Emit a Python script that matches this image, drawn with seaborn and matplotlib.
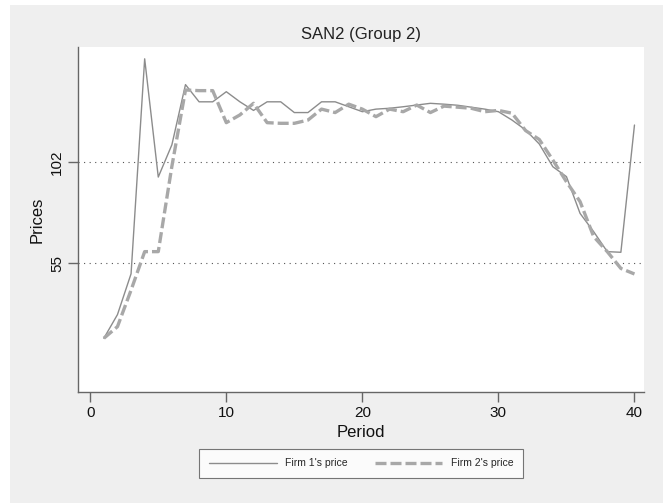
import numpy as np
import pandas as pd
import seaborn as sns
import matplotlib.pyplot as plt
from matplotlib.patches import Rectangle

period = list(range(1, 41))
firm1 = [20, 31, 50, 150, 95, 110, 138, 130, 130, 134.7,
         130, 126, 130, 130, 125, 125, 130, 130, 127.7, 125.4,
         126.6, 127, 127.7, 128.5, 129.3, 128.9, 128.4, 127.5, 126.6, 125.4,
         121.5, 116.9, 110.4, 99.8, 95.2, 78.1, 69.6, 60.3, 60, 119.2]
firm2 = [20, 25.4, 42.4, 60.3, 60.3, 100, 135.5, 135.2, 135.2, 120.3,
         123.9, 129.3, 120.3, 120, 120, 121.5, 126.6, 125, 128.9, 126.6,
         123.1, 126.6, 125.4, 128.5, 125, 128, 127.5, 127, 125.4, 126,
         124.7, 116.6, 112.5, 102.9, 92.8, 83.6, 67.3, 60.3, 52.5, 49.9]
yticks = [55, 102]
xticks = [0, 10, 20, 30, 40]

df = pd.DataFrame({"Period": period, "Firm 1's price": firm1, "Firm 2's price": firm2})

sns.set_style("white")
plt.rcParams['font.family'] = ['Liberation Sans', 'DejaVu Sans']

fig = plt.figure(figsize=(6.7, 5.03), dpi=100, facecolor='white')
# grey outer panel (Stata graph region)
fig.patches.append(Rectangle((10 / 670, 0), 653 / 670, 1 - 5 / 503, transform=fig.transFigure,
                             facecolor='#efefef', edgecolor='none', zorder=-10))
ax = fig.add_axes([78 / 670, 1 - 392 / 503, 566 / 670, 345 / 503])
ax.set_facecolor('white')

sns.lineplot(data=df, x="Period", y="Firm 1's price", ax=ax, color='#8c8c8c', lw=1.0,
             label="Firm 1's price")
sns.lineplot(data=df, x="Period", y="Firm 2's price", ax=ax, color='#a8a8a8', lw=2.4,
             label="Firm 2's price")
ax.lines[1].set_dashes((3.3, 1.2))

for v in yticks:
    ax.axhline(v, color='#555555', lw=0.8, ls=(0, (1, 4)), zorder=0)

ax.set_xlim(-0.9, 40.7)
ax.set_ylim(-5, 155.5)
ax.set_xticks(xticks)
ax.set_yticks(yticks)
ax.set_yticklabels([str(v) for v in yticks], rotation=90, va='center')
ax.tick_params(axis='both', direction='out', length=7, width=1, color='#666666',
               labelsize=11, labelcolor='#111111', bottom=True, left=True, pad=3)
for s in ['top', 'right']:
    ax.spines[s].set_visible(False)
for s in ['left', 'bottom']:
    ax.spines[s].set_color('#666666')
    ax.spines[s].set_linewidth(1.0)

ax.set_title('SAN2 (Group 2)', fontsize=12, color='#222222', pad=6)
ax.set_xlabel('Period', fontsize=12, color='#111111', labelpad=4)
ax.set_ylabel('Prices', fontsize=12, color='#111111', labelpad=4)

leg = ax.legend(loc='upper center', bbox_to_anchor=(0.5, -0.15), ncol=2,
                frameon=True, fancybox=False, fontsize=7.5, handlelength=6.5,
                columnspacing=2.6, borderpad=0.9, edgecolor='#555555')
leg.get_frame().set_linewidth(0.8)

fig.savefig('out.png', dpi=100, facecolor=fig.get_facecolor())
